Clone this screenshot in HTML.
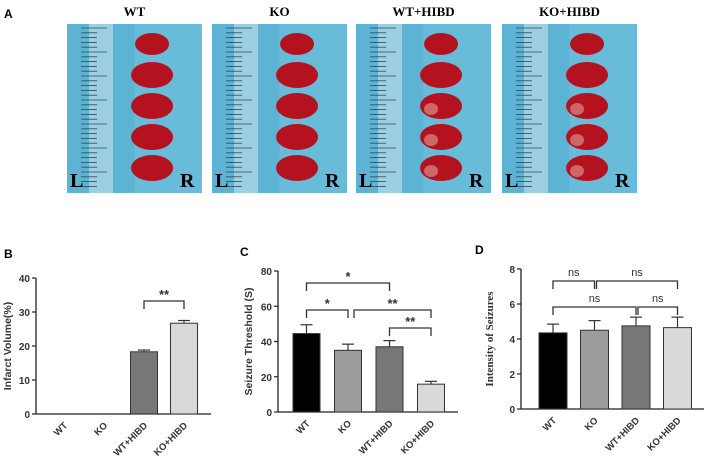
<!DOCTYPE html>
<html><head><meta charset="utf-8"><style>
body{margin:0;background:#fff;width:708px;height:464px;overflow:hidden;font-family:"Liberation Sans",sans-serif}
svg{display:block}
</style></head><body>
<svg id="fig" width="708" height="464" xmlns="http://www.w3.org/2000/svg">
<text x="4" y="18" font-size="12" font-weight="bold">A</text>
<text x="4" y="258" font-size="12" font-weight="bold">B</text>
<text x="240" y="256" font-size="12" font-weight="bold">C</text>
<text x="475" y="254" font-size="12" font-weight="bold">D</text>
<g id="photos"></g>
<g id="charts"></g>
</svg>
<script>
const NS="http://www.w3.org/2000/svg";
const svg=document.getElementById('fig');
function mk(tag,attrs,parent,text){const e=document.createElementNS(NS,tag);for(const k in attrs)e.setAttribute(k,attrs[k]);if(text!==undefined)e.textContent=text;(parent||svg).appendChild(e);return e;}

// ---------- Photos ----------
const photoGroups=["WT","KO","WT+HIBD","KO+HIBD"];
const photoX=[67,212,356,502];
const photos=document.getElementById('photos');
photoGroups.forEach((g,i)=>{
  const x=photoX[i],y=24,w=135,h=169;
  const grp=mk('g',{},photos);
  
  
  const t=mk('text',{x:x+w/2,y:16,'text-anchor':'middle','font-size':'13','font-weight':'bold','font-family':'"Liberation Serif",serif'},grp,g);
  
  
  mk('rect',{x:x,y:y,width:w,height:h,fill:'#5db3d3'},grp);
  mk('rect',{x:x+w*0.5,y:y,width:w*0.5,height:h,fill:'#68bcda'},grp);
  mk('rect',{x:x+22,y:y,width:24,height:h,fill:'#9ecfe0'},grp);
  for(let k=0;k<34;k++){const yy=y+4+k*4.8;mk('line',{x1:x+14,x2:x+(k%5==0?40:30),y1:yy,y2:yy,stroke:'#2a4a5a','stroke-width':0.8},grp);}
  for(let k=0;k<5;k++){const cy=y+20+k*31,rw=k==0?17:21;
    mk('ellipse',{cx:x+w*0.63,cy:cy,rx:rw,ry:k==0?11:13,fill:'#b4121f'},grp);
    if(i>=2&&k>=2){mk('ellipse',{cx:x+w*0.63-10,cy:cy+3,rx:7,ry:6,fill:'#d98a8a',opacity:0.7},grp);}
  }
  mk('text',{x:x+3,y:y+h-6,'font-size':'20','font-family':'"Liberation Serif",serif','font-weight':'bold'},grp,'L');
  mk('text',{x:x+w-22,y:y+h-6,'font-size':'20','font-family':'"Liberation Serif",serif','font-weight':'bold'},grp,'R');
});

// ---------- Chart data ----------
const categories=["WT","KO","WT+HIBD","KO+HIBD"];
const colors=["#000000","#9c9c9c","#777777","#d9d9d9"];
const infarctValues=[0,0,18.3,26.7];
const infarctErrors=[0,0,0.5,0.8];
const infarctTicks=[0,10,20,30,40];
const seizureValues=[44.5,35,37,15.8];
const seizureErrors=[5,3.5,3.5,1.6];
const seizureTicks=[0,20,40,60,80];
const intensityValues=[4.35,4.5,4.75,4.65];
const intensityErrors=[0.5,0.55,0.5,0.6];
const intensityTicks=[0,2,4,6,8];

function chart(o){
  const g=mk('g',{});
  
  
  const max=o.ticks[o.ticks.length-1];
  const yS=v=>o.y0-(v/max)*(o.y0-o.yTop);
  const xS=i=>o.x0+o.first+i*o.step;
  mk('line',{x1:o.x0,x2:o.x0,y1:o.yTop,y2:o.y0,stroke:'#222','stroke-width':1.3},g);
  mk('line',{x1:o.x0,x2:o.xEnd,y1:o.y0,y2:o.y0,stroke:'#222','stroke-width':1.3},g);
  o.ticks.forEach(t=>{const yy=yS(t);
    mk('line',{x1:o.x0-4,x2:o.x0,y1:yy,y2:yy,stroke:'#222','stroke-width':1.2},g);
    const tl=mk('text',{x:o.x0-6,y:yy+4,'text-anchor':'end','font-size':'10','font-weight':'bold',fill:'#333'},g,t);
    
    
  });
  const yl=mk('text',{transform:`translate(${o.ylx},${(o.y0+o.yTop)/2}) rotate(-90)`,'text-anchor':'middle','font-size':o.serif?'11':'10.5','font-weight':'bold',fill:'#333','font-family':o.serif?'"Liberation Serif",serif':'"Liberation Sans",sans-serif'},g,o.ylabel);
  
  
  categories.forEach((c,i)=>{
    const cx=xS(i),v=o.values[i],e=o.errors[i];
    if(v>0){
      const b=mk('rect',{x:cx-o.bw/2,y:yS(v),width:o.bw,height:o.y0-yS(v),fill:colors[i],stroke:'#333','stroke-width':1},g);
      
      
      mk('line',{x1:cx,x2:cx,y1:yS(v),y2:yS(v+e),stroke:'#333','stroke-width':1.2},g);
      mk('line',{x1:cx-6,x2:cx+6,y1:yS(v+e),y2:yS(v+e),stroke:'#333','stroke-width':1.2},g);
    }
    const tl=mk('text',{transform:`translate(${cx+4},${o.y0+12}) rotate(-45)`,'text-anchor':'end','font-size':'9.5','font-weight':'bold',fill:'#333'},g,c);
    
    
  });
  o.brackets.forEach(b=>{
    const x1=xS(b[0])+(b[4]||0),x2=xS(b[1]),yy=b[2];
    mk('path',{d:`M${x1},${yy+8}V${yy}H${x2}V${yy+8}`,fill:'none',stroke:'#333','stroke-width':1.3},g);
    const s=mk('text',{x:(x1+x2)/2,y:yy-(b[3]=='ns'?5:2),'text-anchor':'middle','font-size':b[3]=='ns'?'11':'13','font-weight':b[3]=='ns'?'normal':'bold',fill:'#333'},g,b[3]);
    
    
  });
}
chart({name:'infarct-volume-chart',x0:36,xEnd:211,yTop:278,y0:414,first:28,step:40,bw:27,ticks:infarctTicks,values:infarctValues,errors:infarctErrors,ylabel:'Infarct Volume(%)',ylx:11,
  brackets:[[2,3,301,'**']]});
chart({name:'seizure-threshold-chart',x0:278,xEnd:458,yTop:271,y0:412,first:28.5,step:41.5,bw:27,ticks:seizureTicks,values:seizureValues,errors:seizureErrors,ylabel:'Seizure Threshold (S)',ylx:252,
  brackets:[[0,2,283,'*'],[0,1,310,'*'],[1,3,310,'**',6],[2,3,328,'**']]});
chart({name:'seizure-intensity-chart',x0:521,xEnd:704,yTop:269,y0:409,first:32,step:41.5,bw:28,ticks:intensityTicks,values:intensityValues,errors:intensityErrors,ylabel:'Intensity of Seizures',ylx:493,serif:true,
  brackets:[[0,1,281,'ns'],[1,3,281,'ns',2],[0,2,307,'ns'],[2,3,307,'ns',2]]});
</script>
</body></html>
